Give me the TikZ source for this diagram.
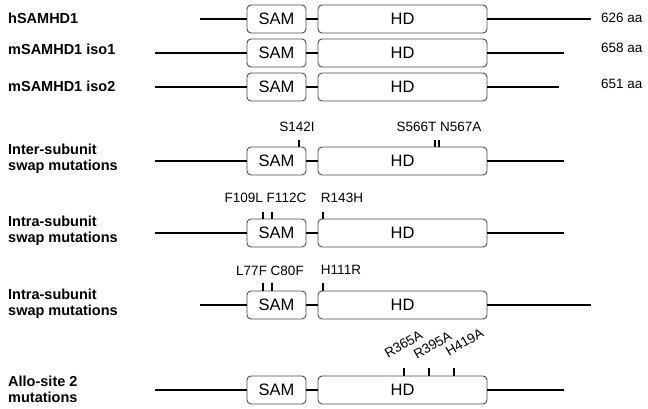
\documentclass[tikz,border=0pt]{standalone}
\usepackage{fontspec}
\setmainfont{Liberation Sans}
\begin{document}
\begin{tikzpicture}[x=1pt,y=-1pt,
  dom/.style={draw=black!70, line width=0.9pt, rounded corners=4pt, inner sep=0pt, minimum height=28pt, font=\fontsize{16.5}{18}\selectfont, fill=white},
  sam/.style={dom, minimum width=59pt},
  hdbox/.style={dom, minimum width=169pt},
  bb/.style={line width=2pt},
  tk/.style={line width=1.4pt},
  lab/.style={anchor=west, align=left, font=\fontsize{14.5}{16}\selectfont\bfseries, inner sep=0pt},
  mut/.style={font=\fontsize{13.5}{15}\selectfont, inner sep=0pt},
  aa/.style={anchor=west, font=\fontsize{13.5}{15}\selectfont, inner sep=0pt}]
\useasboundingbox (0,0) rectangle (648,408);

% Row 1
\node[lab] (l1) at (8,18.5) {hSAMHD1};
\node[sam] (s1) at (276.5,19) {SAM};
\node[hdbox] (h1) at (402.5,19) {HD};
\coordinate (a1) at (200,19);
\coordinate (b1) at (591,19);
\draw[bb] (a1) -- (s1.west) (s1.east) -- (h1.west) (h1.east) -- (b1);
\node[aa] (n1) at (601,18) {626 aa};

% Row 2
\node[lab] (l2) at (8,49) {mSAMHD1 iso1};
\node[sam] (s2) at (276.5,53) {SAM};
\node[hdbox] (h2) at (402.5,53) {HD};
\coordinate (a2) at (155,53);
\coordinate (b2) at (564,53);
\draw[bb] (a2) -- (s2.west) (s2.east) -- (h2.west) (h2.east) -- (b2);
\node[aa] (n2) at (601,48) {658 aa};

% Row 3
\node[lab] (l3) at (8,86) {mSAMHD1 iso2};
\node[sam] (s3) at (276.5,87) {SAM};
\node[hdbox] (h3) at (402.5,87) {HD};
\coordinate (a3) at (155,87);
\coordinate (b3) at (559,87);
\draw[bb] (a3) -- (s3.west) (s3.east) -- (h3.west) (h3.east) -- (b3);
\node[aa] (n3) at (601,84) {651 aa};

% Row 4
\node[lab] (l4) at (8,159) {Inter-subunit\\swap mutations};
\node[sam] (s4) at (276.5,161) {SAM};
\node[hdbox] (h4) at (402.5,161) {HD};
\coordinate (a4) at (155,161);
\coordinate (b4) at (564,161);
\draw[bb] (a4) -- (s4.west) (s4.east) -- (h4.west) (h4.east) -- (b4);
\coordinate (p4a) at (299,147); \coordinate (q4a) at (299,140);
\coordinate (p4b) at (435,147); \coordinate (q4b) at (435,140);
\coordinate (p4c) at (439,147); \coordinate (q4c) at (439,140);
\draw[tk] (p4a) -- (q4a) (p4b) -- (q4b) (p4c) -- (q4c);
\node[mut] (m4a) at (297,127) {S142I};
\node[mut] (m4b) at (439,127) {S566T N567A};

% Row 5
\node[lab] (l5) at (8,231) {Intra-subunit\\swap mutations};
\node[sam] (s5) at (276.5,233) {SAM};
\node[hdbox] (h5) at (402.5,233) {HD};
\coordinate (a5) at (155,233);
\coordinate (b5) at (564,233);
\draw[bb] (a5) -- (s5.west) (s5.east) -- (h5.west) (h5.east) -- (b5);
\coordinate (p5a) at (263,219); \coordinate (q5a) at (263,212);
\coordinate (p5b) at (272,219); \coordinate (q5b) at (272,212);
\coordinate (p5c) at (323,219); \coordinate (q5c) at (323,212);
\draw[tk] (p5a) -- (q5a) (p5b) -- (q5b) (p5c) -- (q5c);
\node[mut] (m5a) at (265.5,198) {F109L F112C};
\node[mut] (m5b) at (342,198) {R143H};

% Row 6
\node[lab] (l6) at (8,304) {Intra-subunit\\swap mutations};
\node[sam] (s6) at (276.5,305) {SAM};
\node[hdbox] (h6) at (402.5,305) {HD};
\coordinate (a6) at (200,305);
\coordinate (b6) at (591,305);
\draw[bb] (a6) -- (s6.west) (s6.east) -- (h6.west) (h6.east) -- (b6);
\coordinate (p6a) at (263,291); \coordinate (q6a) at (263,283);
\coordinate (p6b) at (272,291); \coordinate (q6b) at (272,283);
\coordinate (p6c) at (323,291); \coordinate (q6c) at (323,283);
\draw[tk] (p6a) -- (q6a) (p6b) -- (q6b) (p6c) -- (q6c);
\node[mut] (m6a) at (270,271) {L77F C80F};
\node[mut] (m6b) at (341,270) {H111R};

% Row 7
\node[lab] (l7) at (8,389.5) {Allo-site 2\\mutations};
\node[sam] (s7) at (276.5,390) {SAM};
\node[hdbox] (h7) at (402.5,390) {HD};
\coordinate (a7) at (155,390);
\coordinate (b7) at (564,390);
\draw[bb] (a7) -- (s7.west) (s7.east) -- (h7.west) (h7.east) -- (b7);
\coordinate (p7a) at (404,376); \coordinate (q7a) at (404,368);
\coordinate (p7b) at (429,376); \coordinate (q7b) at (429,368);
\coordinate (p7c) at (454,376); \coordinate (q7c) at (454,368);
\draw[tk] (p7a) -- (q7a) (p7b) -- (q7b) (p7c) -- (q7c);
\node[mut, rotate=30, anchor=south west] (m7a) at (388,359) {R365A};
\node[mut, rotate=30, anchor=south west] (m7b) at (417,360) {R395A};
\node[mut, rotate=30, anchor=south west] (m7c) at (449,357) {H419A};
\end{tikzpicture}
\end{document}
